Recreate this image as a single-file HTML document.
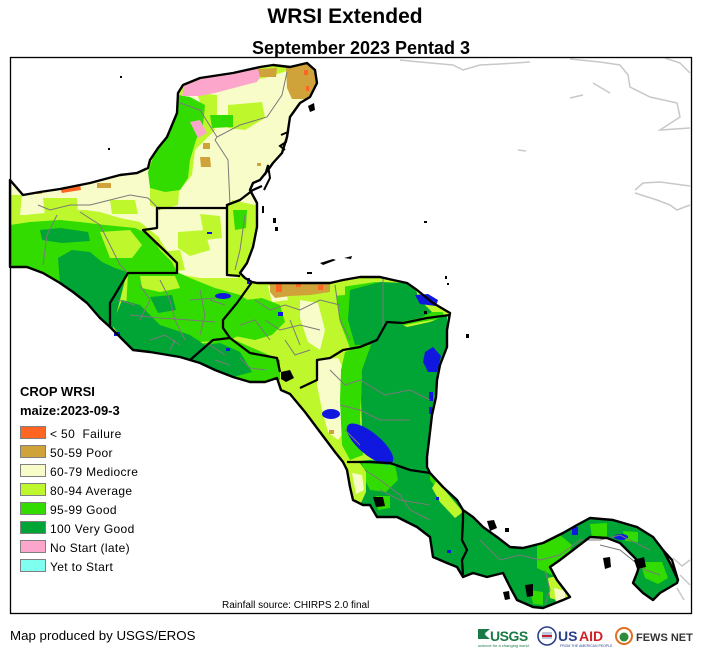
<!DOCTYPE html>
<html><head><meta charset="utf-8"><style>
html,body{margin:0;padding:0;background:#fff;}
svg{display:block;font-family:"Liberation Sans",Arial,sans-serif;}
</style></head><body>
<svg width="703" height="662" viewBox="0 0 703 662" xmlns="http://www.w3.org/2000/svg">
<defs>
<clipPath id="land"><path id="landp" d="M10,180 L23,195 L40,192 L60,189 L90,183 L120,175 L137,173 L148,168 L150,160 L158,148 L167,137 L172,125 L177,113 L178,93 L183,85 L200,78 L233,73 L260,67 L273,65 L290,67 L307,63 L315,70 L317,83 L310,97 L300,103 L290,117 L287,137 L282,153 L273,163 L268,170 L260,180 L253,183 L250,190 L257,203 L257,227 L253,247 L247,263 L240,273 L245,278 L252,282 L257,283 L270,283 L330,283 L343,280 L360,277 L380,277 L393,280 L407,283 L417,290 L433,303 L450,313 L447,330 L447,347 L440,365 L437,380 L436,397 L432,415 L430,432 L427,457 L427,467 L430,473 L443,487 L457,500 L463,510 L473,517 L483,527 L497,537 L510,547 L523,548 L543,543 L563,533 L577,525 L590,518 L613,520 L637,527 L653,537 L663,550 L670,563 L678,580 L677,583 L660,593 L653,600 L643,593 L633,583 L637,573 L640,563 L630,553 L620,543 L607,538 L590,537 L577,547 L560,560 L550,567 L557,580 L570,597 L563,600 L543,608 L533,607 L517,600 L510,587 L503,573 L487,577 L473,573 L463,577 L457,567 L447,563 L433,557 L430,537 L417,527 L397,517 L377,517 L370,505 L363,505 L353,500 L350,487 L347,470 L343,462 L335,452 L320,432 L305,412 L290,394 L281,390 L277,378 L265,382 L250,382 L233,377 L215,370 L200,363 L180,357 L150,352 L133,350 L123,340 L110,327 L100,318 L87,303 L73,292 L60,283 L43,273 L27,267 L10,267 Z"/></clipPath>
</defs>

<!-- Title -->
<text x="345" y="23" font-size="21" font-weight="bold" text-anchor="middle" fill="#000">WRSI Extended</text>
<text x="361" y="54" font-size="18" font-weight="bold" text-anchor="middle" fill="#000">September 2023 Pentad 3</text>

<!-- gray foreign coastlines -->
<g fill="none" stroke="#c8c8c8" stroke-width="1.5">
<path d="M400,60 L420,62 L453,65 L463,70 L480,65 L500,64 L530,62"/>
<path d="M570,59 L600,62 L620,65 L628,75 L630,87 L650,97 L668,101 L677,103 L680,117 L660,130 L690,128"/>
<path d="M665,58 L680,63 L690,73"/>
<path d="M593,83 L610,93"/>
<path d="M570,98 L583,95"/>
<path d="M518,150 L526,151"/>
<path d="M635,190 L643,183 L660,182 L690,186 M635,193 L657,200 L670,205 L677,210 L690,205"/>
<path d="M673,558 L682,566 L690,560 M680,575 L690,585 M677,588 L684,600"/>
</g>

<g clip-path="url(#land)">
<rect x="0" y="0" width="703" height="662" fill="#bef82c"/>

<g fill="#f8fcc8">
<path d="M182,95 L205,88 L240,82 L265,78 L290,70 L318,68 L318,100 L303,110 L293,128 L287,145 L280,162 L272,178 L262,190 L255,205 L232,200 L228,215 L232,240 L238,278 L200,278 L178,274 L172,258 L160,240 L155,226 L150,215 L165,205 L180,190 L192,175 L195,150 L205,140 L215,130 L210,115 L195,100 Z"/>
<path d="M10,180 L60,188 L110,177 L148,168 L160,185 L165,205 L175,215 L172,235 L160,238 L140,222 L120,218 L100,212 L85,210 L65,210 L45,213 L25,215 L10,215 Z"/>
<path d="M300,300 L318,303 L325,330 L320,350 L308,342 L300,318 Z"/>
<path d="M268,286 L285,288 L288,300 L272,302 Z"/>
<path d="M318,360 L338,358 L345,372 L343,400 L345,430 L338,440 L328,432 L322,410 L317,385 Z"/>
<path d="M236,245 L246,244 L244,268 L236,268 Z"/>
</g>

<g fill="#bef82c">
<path d="M197,93 L217,95 L217,117 L205,118 Z"/>
<path d="M228,105 L262,102 L265,118 L245,130 L228,128 Z"/>
<path d="M150,180 L180,180 L178,205 L160,210 L150,205 Z"/>
<path d="M228,205 L255,205 L257,230 L250,262 L240,276 L228,276 Z"/>
<path d="M178,232 L205,230 L210,250 L190,256 L178,248 Z"/>
<path d="M200,214 L220,216 L222,238 L205,240 Z"/>
<path d="M160,252 L180,250 L185,270 L168,272 Z"/>
<path d="M43,198 L77,198 L78,215 L45,216 Z"/>
<path d="M10,195 L22,195 L20,215 L10,215 Z"/>
<path d="M110,200 L135,200 L138,214 L112,214 Z"/>
</g>

<g fill="#32dc00">
<path d="M148,172 L155,152 L165,130 L174,110 L178,95 L190,97 L205,105 L203,125 L196,140 L190,160 L188,178 L180,190 L165,192 L150,188 Z"/>
<path d="M210,115 L233,115 L233,127 L212,128 Z"/>
<path d="M233,210 L247,210 L246,228 L235,230 Z"/>
<path d="M10,225 L30,222 L60,220 L80,222 L105,225 L135,228 L150,235 L160,250 L172,262 L177,272 L127,272 L112,328 L100,322 L80,300 L53,280 L23,267 L10,268 Z"/>
<path d="M128,272 L177,272 L190,278 L215,288 L240,295 L255,305 L250,330 L230,340 L200,342 L170,338 L150,330 L125,330 Z"/>
<path d="M222,310 L245,300 L262,298 L280,305 L285,322 L272,335 L255,340 L235,336 Z"/>
<path d="M230,338 L262,352 L280,360 L280,380 L250,383 L230,376 L200,364 L195,345 Z"/>
<path d="M335,288 L375,282 L410,285 L440,305 L445,318 L420,322 L400,326 L380,332 L365,345 L350,348 L340,322 Z"/>
<path d="M345,352 L372,342 L362,372 L360,420 L363,455 L350,460 L342,445 L340,400 L341,370 Z"/>
</g>
<g fill="#bef82c">
<path d="M100,232 L130,230 L142,245 L132,258 L110,258 Z"/>
<path d="M140,276 L175,276 L180,288 L160,292 L142,288 Z"/>
</g>

<g fill="#00a535">
<path d="M58,258 L72,250 L90,252 L102,262 L115,268 L127,272 L113,328 L100,320 L85,305 L72,293 L60,284 Z"/>
<path d="M40,230 L60,228 L88,232 L90,241 L62,243 L42,240 Z"/>
<path d="M112,325 L122,300 L140,305 L160,325 L190,335 L205,345 L220,343 L240,352 L252,372 L233,377 L200,363 L180,357 L150,352 L133,350 L123,340 Z"/>
<path d="M150,297 L172,295 L176,310 L158,313 Z"/>
<path d="M350,290 L380,282 L405,283 L425,298 L432,312 L420,318 L400,322 L385,330 L370,345 L355,345 L348,320 Z"/>
<path d="M372,342 L380,327 L393,320 L407,327 L430,322 L447,315 L447,347 L437,380 L432,415 L430,432 L427,457 L433,473 L400,466 L380,462 L366,455 L362,430 L361,400 L362,370 Z"/>
<path d="M345,462 L370,460 L390,461 L410,466 L428,462 L700,460 L700,620 L340,620 Z"/>
</g>

<g fill="#32dc00">
<path d="M362,463 L395,465 L398,480 L386,492 L370,490 L364,478 Z"/>
<path d="M376,496 L390,496 L390,508 L378,510 Z"/>
<path d="M430,468 L442,482 L438,490 L430,480 Z"/>
<path d="M537,540 L560,535 L572,545 L566,565 L552,575 L537,568 Z"/>
<path d="M590,524 L607,523 L607,538 L592,538 Z"/>
<path d="M623,531 L638,532 L638,542 L625,541 Z"/>
<path d="M640,562 L662,562 L668,578 L658,584 L645,578 Z"/>
<path d="M530,590 L543,592 L543,605 L533,604 Z"/>
</g>
<g fill="#bef82c">
<path d="M437,480 L447,493 L463,512 L455,518 L440,502 L432,488 Z"/>
<path d="M343,462 L358,460 L366,472 L366,492 L360,505 L352,498 L348,480 Z"/>
<path d="M548,578 L562,575 L572,597 L563,602 L550,598 Z"/>
<path d="M415,284 L435,295 L445,312 L432,312 L418,298 Z"/>
<path d="M330,283 L345,281 L345,295 L332,296 Z"/>
</g>
<path d="M352,473 L362,475 L364,490 L356,494 Z" fill="#f8fcc8"/>
<path d="M554,588 L565,591 L565,603 L556,603 Z" fill="#f8fcc8"/>

<g fill="#fda6cc">
<path d="M182,96 L184,86 L200,79 L233,74 L258,68 L262,74 L257,82 L245,85 L230,89 L215,93 L200,96 Z"/>
<path d="M190,122 L200,120 L207,133 L198,138 Z"/>
</g>
<g fill="#d0a23a">
<path d="M286,68 L300,64 L310,64 L317,75 L315,92 L305,99 L292,99 L287,88 Z"/>
<path d="M258,69 L277,68 L276,77 L260,77 Z"/>
<rect x="203" y="143" width="7" height="6"/>
<path d="M200,157 L210,157 L211,167 L201,167 Z"/>
<rect x="257" y="163" width="4" height="3"/>
<rect x="97" y="183" width="14" height="5"/>
<rect x="36" y="190" width="6" height="4"/>
<path d="M270,283 L330,283 L330,292 L310,295 L290,296 L275,298 L270,292 Z"/>
<rect x="329" y="430" width="5" height="4"/>
</g>
<g fill="#fe6422">
<rect x="304" y="70" width="4" height="5"/><rect x="306" y="86" width="3" height="5"/>
<path d="M60,188 L80,184 L81,190 L62,193 Z"/>
<rect x="276" y="283" width="6" height="9"/><rect x="296" y="283" width="5" height="4"/><rect x="318" y="285" width="5" height="5"/>
</g>
<rect x="93" y="178" width="3" height="3" fill="#7ffff0"/>
</g>

<g fill="#1018e0">
<ellipse cx="370" cy="444" rx="29" ry="11" transform="rotate(40 370 444)"/>
<ellipse cx="331" cy="414" rx="9" ry="5"/>
<ellipse cx="223" cy="296" rx="8" ry="3"/>
<path d="M415,295 L428,294 L438,300 L436,306 L420,304 Z"/>
<path d="M425,352 L433,347 L441,356 L437,372 L428,372 L423,362 Z"/>
<rect x="429" y="392" width="4" height="9"/>
<rect x="429" y="407" width="3" height="7"/>
<rect x="572" y="527" width="6" height="8"/>
<ellipse cx="621" cy="537" rx="7" ry="3"/>
<rect x="278" y="312" width="5" height="4"/>
<rect x="114" y="332" width="6" height="4"/>
<rect x="226" y="348" width="4" height="3"/>
<rect x="207" y="232" width="5" height="2"/>
<rect x="247" y="278" width="3" height="6"/>
<rect x="447" y="550" width="4" height="3"/>
<rect x="436" y="497" width="3" height="3"/>
</g>

<g fill="none" stroke="#7a7a7a" stroke-width="1">
<path d="M287,72 L282,95 L267,117 L240,125 L217,137 L215,140 L228,160 L230,205"/>
<path d="M180,103 L200,110 L217,137"/>
<path d="M38,205 L50,210 L70,205 L90,205 L110,200 L130,195 L148,198"/>
<path d="M57,215 L47,235 L43,265"/>
<path d="M80,212 L100,225 L110,245 L120,265 L127,272"/>
<path d="M148,198 L160,210"/>
<path d="M245,215 L240,250 L235,270"/>
<path d="M140,285 L150,300 L140,320 M160,280 L170,300 L175,320 L185,340 M200,290 L205,315 L200,335 M130,315 L160,318 L190,320 L215,322"/>
<path d="M118,300 L135,305 M150,340 L165,335 L180,345 M210,300 L225,305 M190,300 L215,298 M170,350 L175,340"/>
<path d="M200,350 L210,345 L225,355 M240,358 L250,368 L265,370 M215,360 L230,365"/>
<path d="M255,300 L270,310 L285,305 L300,310 L320,300 L340,305 M265,320 L280,330 L300,325 L320,330 M290,320 L300,345 M335,285 L340,320 L350,340"/>
<path d="M240,325 L255,320 L270,340 M285,340 L295,355 L310,350"/>
<path d="M383,277 L383,330"/>
<path d="M330,370 L345,385 L360,380 L385,395 L410,390 L430,400 M340,405 L360,410 L380,420 L410,420 M345,430 L360,445"/>
<path d="M365,470 L380,480 L400,495 L410,510 L430,520 M380,490 L400,500 L430,505"/>
<path d="M480,540 L500,560 L520,555 L540,560 L560,555 L580,540 L600,540 L620,535 L650,550 M545,570 L550,590 L545,605"/>
<path d="M600,545 L620,550 L645,570 L660,575"/>
</g>

<use href="#landp" fill="none" stroke="#000" stroke-width="2.4" stroke-linejoin="round"/>
<g fill="none" stroke="#000" stroke-width="2">
<path d="M281,135 L288,132 L286,142 L280,146 L285,150"/>
<path d="M265,175 L268,165 L270,178 L264,190"/>
</g>

<g fill="none" stroke="#000" stroke-width="2.3" stroke-linejoin="round">
<path d="M110,327 L110,303 L128,273 L177,273 L177,263 L167,253 L143,230 L157,228 L157,208 L227,208"/>
<path d="M227,204 L227,275 L240,276"/>
<path d="M227,205 L240,200 L253,190 L262,186"/>
<path d="M252,282 L237,303 L223,320 L223,328 L230,338"/>
<path d="M190,360 L213,340 L230,338 L250,353 L277,358 L280,372"/>
<path d="M300,388 L317,380 L317,360 L330,358 L343,350 L360,347 L377,340 L387,322 L403,323 L427,318 L450,315"/>
<path d="M347,462 L370,462 L390,463 L410,470 L430,473"/>
<path d="M463,510 L463,520 L462,540 L467,550 L462,560 L463,575"/>
<path d="M663,550 L672,560 L678,580"/>
</g>

<g fill="#000">
<path d="M320,263 L333,259 L336,260 L323,265 Z"/><path d="M344,258 L352,256 L351,259 Z"/>
<rect x="307" y="272" width="5" height="2"/>
<path d="M308,106 L314,103 L315,110 L310,112 Z"/>
<rect x="273" y="218" width="3" height="5"/><rect x="275" y="227" width="3" height="4"/>
<rect x="262" y="206" width="2" height="7"/>
<rect x="466" y="334" width="3" height="4"/>
<rect x="445" y="276" width="2" height="3"/><rect x="447" y="283" width="2" height="2"/>
<path d="M281,372 L290,370 L294,378 L286,382 L281,379 Z"/>
<path d="M373,497 L383,497 L385,506 L376,507 Z"/>
<path d="M487,521 L494,520 L497,528 L490,531 Z"/>
<rect x="505" y="528" width="4" height="4"/>
<path d="M603,558 L610,557 L611,567 L605,569 Z"/>
<path d="M503,592 L509,591 L510,599 L505,600 Z"/>
<path d="M525,585 L533,584 L533,596 L527,597 Z"/>
<path d="M634,560 L644,557 L646,567 L637,569 Z"/>
<rect x="424" y="221" width="3" height="2"/>
<rect x="424" y="311" width="3" height="3"/>
<rect x="108" y="148" width="2" height="2"/>
<rect x="120" y="76" width="2" height="2"/>
</g>

<rect x="10.5" y="57.5" width="681" height="556" fill="none" stroke="#000" stroke-width="1.3"/>

<text x="20" y="396" font-size="13" font-weight="bold" fill="#000">CROP WRSI</text>
<text x="20" y="415" font-size="13" font-weight="bold" fill="#000">maize:2023-09-3</text>
<g stroke="#808080" stroke-width="1">
<rect x="20.5" y="426.5" width="25" height="12" fill="#fe6422"/>
<rect x="20.5" y="445.5" width="25" height="12" fill="#d0a23a"/>
<rect x="20.5" y="464.5" width="25" height="12" fill="#f8fcc8"/>
<rect x="20.5" y="483.5" width="25" height="12" fill="#bef82c"/>
<rect x="20.5" y="502.5" width="25" height="12" fill="#32dc00"/>
<rect x="20.5" y="521.5" width="25" height="12" fill="#00a535"/>
<rect x="20.5" y="540.5" width="25" height="12" fill="#fda6cc"/>
<rect x="20.5" y="559.5" width="25" height="12" fill="#7ffff0"/>
</g>
<g font-size="12" fill="#000" letter-spacing="0.35">
<text x="50" y="438">&lt; 50&#160; Failure</text>
<text x="50" y="457">50-59 Poor</text>
<text x="50" y="476">60-79 Mediocre</text>
<text x="50" y="495">80-94 Average</text>
<text x="50" y="514">95-99 Good</text>
<text x="50" y="533">100 Very Good</text>
<text x="50" y="552">No Start (late)</text>
<text x="50" y="571">Yet to Start</text>
</g>

<text x="222" y="608" font-size="10" fill="#000">Rainfall source: CHIRPS 2.0 final</text>
<text x="10" y="640" font-size="13.3" fill="#000">Map produced by USGS/EROS</text>

<g>
<path d="M478,629 L490,629 L484,634 L490,639 L478,639 Z M479,631 L486,634 L479,637 Z" fill="#1a7a45"/>
<text x="490" y="641" font-size="14" font-weight="bold" fill="#1a7a45" letter-spacing="-0.5">USGS</text>
<text x="478" y="647" font-size="4" fill="#1a7a45">science for a changing world</text>
<circle cx="547" cy="636" r="9" fill="#fff" stroke="#2b3f8a" stroke-width="1.6"/>
<rect x="542" y="632" width="10" height="7" fill="#c0c8e0"/>
<rect x="542" y="635" width="10" height="2" fill="#c02030"/>
<text x="558" y="641" font-size="14" font-weight="bold" fill="#2b3f8a">US</text>
<text x="579" y="641" font-size="14" font-weight="bold" fill="#d0202a">AID</text>
<text x="560" y="647" font-size="3.5" fill="#2b3f8a">FROM THE AMERICAN PEOPLE</text>
<circle cx="624" cy="636" r="8" fill="#fff" stroke="#e07020" stroke-width="2"/>
<circle cx="624" cy="637" r="4.5" fill="#2e8b3a"/>
<text x="636" y="641" font-size="11" font-weight="bold" fill="#333">FEWS NET</text>
</g>
</svg>
</body></html>
